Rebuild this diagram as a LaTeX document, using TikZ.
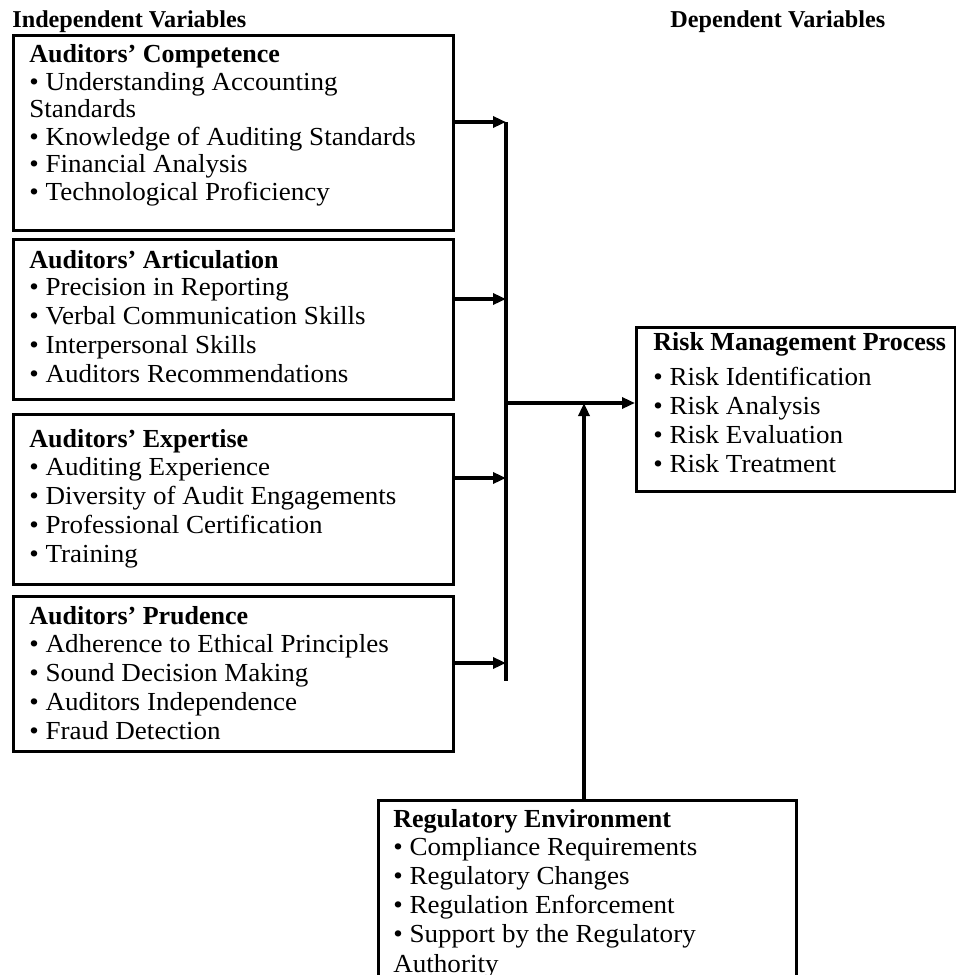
\documentclass[tikz,border=0pt]{standalone}
\usepackage{fontspec}
\setmainfont{Liberation Serif}
\newfontfamily\bodyfont{Liberation Serif}[FakeStretch=1.04]
\usetikzlibrary{arrows.meta}
\begin{document}
\begin{tikzpicture}[x=0.5pt,y=-0.5pt,
  frame/.style={draw=black, line width=1.5pt, rectangle, inner sep=0pt, anchor=north west},
  ttl/.style={anchor=base west, inner sep=0pt, font=\fontsize{13}{15}\selectfont\bfseries},
  itm/.style={anchor=base west, inner sep=0pt, font=\fontsize{13}{15}\selectfont\bodyfont},
  hdr/.style={anchor=base west, inner sep=0pt, font=\fontsize{12.1}{14}\selectfont\bfseries},
  arr/.style={line width=1.6pt, -{Triangle[length=6.5pt,width=5.5pt]}},
  busline/.style={line width=1.6pt}]
\clip (0,0) rectangle (956,975);

% headings
\node[hdr] (hind) at (12,27) {Independent Variables};
\node[hdr] (hdep) at (670,27) {Dependent Variables};

% box 1
\node[frame, minimum width=220pt, minimum height=97.5pt] (c1) at (12,34) {};
\node[ttl] (c1t) at (29,62) {Auditors’ Competence};
\foreach \t [count=\i from 0] in {• Understanding Accounting, Standards, • Knowledge of Auditing Standards, • Financial Analysis, • Technological Proficiency}
  \node[itm] (c1-\i) at (29,{90+27.5*\i}) {\t};

% box 2
\node[frame, minimum width=220pt, minimum height=80pt] (c2) at (12,238) {};
\node[ttl] (c2t) at (29,268) {Auditors’ Articulation};
\foreach \t [count=\i from 0] in {• Precision in Reporting, • Verbal Communication Skills, • Interpersonal Skills, • Auditors Recommendations}
  \node[itm] (c2-\i) at (29,{295+29*\i}) {\t};

% box 3
\node[frame, minimum width=220pt, minimum height=85pt] (c3) at (12,413) {};
\node[ttl] (c3t) at (29,447) {Auditors’ Expertise};
\foreach \t [count=\i from 0] in {• Auditing Experience, • Diversity of Audit Engagements, • Professional Certification, • Training}
  \node[itm] (c3-\i) at (29,{475+29*\i}) {\t};

% box 4
\node[frame, minimum width=220pt, minimum height=77.5pt] (c4) at (12,595) {};
\node[ttl] (c4t) at (29,624) {Auditors’ Prudence};
\foreach \t [count=\i from 0] in {• Adherence to Ethical Principles, • Sound Decision Making, • Auditors Independence, • Fraud Detection}
  \node[itm] (c4-\i) at (29,{652+29*\i}) {\t};

% risk box
\node[frame, minimum width=159.5pt, minimum height=82pt] (r) at (635,326) {};
\node[ttl] (rt) at (653,350) {Risk Management Process};
\foreach \t [count=\i from 0] in {• Risk Identification, • Risk Analysis, • Risk Evaluation, • Risk Treatment}
  \node[itm] (r-\i) at (653,{385+29*\i}) {\t};

% regulatory box
\node[frame, minimum width=209pt, minimum height=110pt] (g) at (377,799) {};
\node[ttl] (gt) at (393,827) {Regulatory Environment};
\foreach \t [count=\i from 0] in {• Compliance Requirements, • Regulatory Changes, • Regulation Enforcement, • Support by the Regulatory, Authority}
  \node[itm] (g-\i) at (393,{855+29.3*\i}) {\t};

% bus and connectors
\coordinate (a1) at (506,122);
\coordinate (a2) at (506,299);
\coordinate (a3) at (506,478);
\coordinate (a4) at (506,663);
\coordinate (bend) at (506,681);
\coordinate (m) at (506,403);
\coordinate (m2) at (584,403);
\draw[busline] (a1) -- (bend);
\draw[arr] (c1.east |- a1) -- (a1);
\draw[arr] (c2.east |- a2) -- (a2);
\draw[arr] (c3.east |- a3) -- (a3);
\draw[arr] (c4.east |- a4) -- (a4);
\draw[arr] (m) -- (r.west |- m);
\draw[arr] (g.north -| m2) -- (m2);
\end{tikzpicture}
\end{document}
